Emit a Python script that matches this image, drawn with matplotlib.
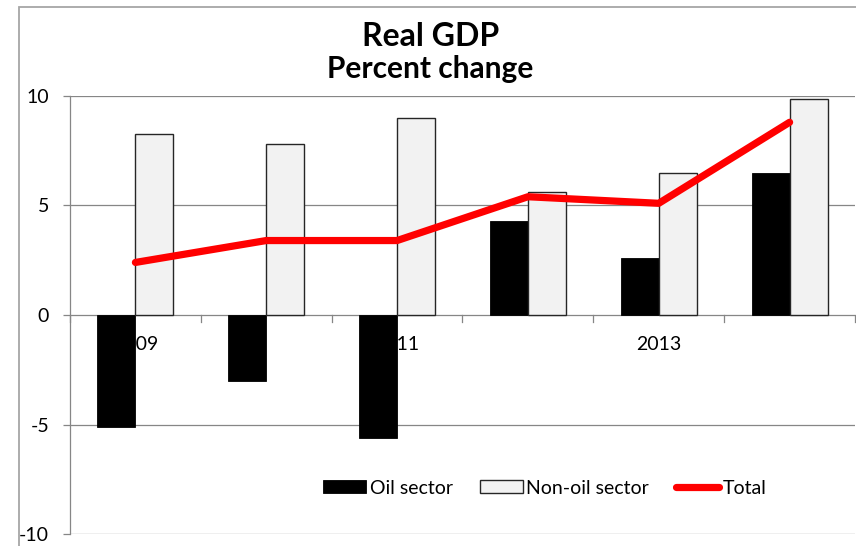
import matplotlib
matplotlib.use("Agg")
import matplotlib.pyplot as plt
from matplotlib.patches import Rectangle
from matplotlib.transforms import offset_copy
import numpy as np

plt.rcParams['font.family'] = ['Lato', 'DejaVu Sans']

years = ["2009", "2010", "2011", "2012", "2013", "2014"]
oil_sector = [-5.1, -3.0, -5.6, 4.3, 2.6, 6.5]
non_oil_sector = [8.25, 7.8, 9.0, 5.6, 6.5, 9.85]
total = [2.4, 3.4, 3.4, 5.4, 5.1, 8.8]
y_ticks = [-10, -5, 0, 5, 10]

W, H = 856, 546
fig = plt.figure(figsize=(W / 100, H / 100), dpi=100)
fig.patch.set_facecolor("white")

# chart-area frame
fig.add_artist(Rectangle((19 / W, -0.05), 1.2, 1 - 7 / H + 0.05,
                         transform=fig.transFigure, fill=False,
                         edgecolor="#a6a6a6", linewidth=1.3))

ax = fig.add_axes([70 / W, 1 - 534 / H, 785 / W, (534 - 96) / H])
x = np.arange(len(years))
bw = 0.29

h_oil = ax.bar(x - bw / 2, oil_sector, width=bw, color="black", edgecolor="black",
               linewidth=0.6, zorder=3, label="Oil sector")
h_non = ax.bar(x + bw / 2, non_oil_sector, width=bw, color="#f2f2f2",
               edgecolor="#262626", linewidth=1.0, zorder=3, label="Non-oil sector")
h_tot, = ax.plot(x, total, color="#ff0000", linewidth=5.2, solid_capstyle="round",
                 solid_joinstyle="round", zorder=4, label="Total")

ax.set_xlim(-0.5, len(years) - 0.5)
ax.set_ylim(-10, 10)
ax.set_yticks(y_ticks)
ax.set_yticklabels([str(v) for v in y_ticks])
for v in y_ticks:
    if v != 0:
        ax.axhline(v, color="#868686", linewidth=0.9, zorder=1)

for s in ["top", "right", "bottom"]:
    ax.spines[s].set_visible(False)
ax.spines["left"].set_color("#868686")
ax.spines["left"].set_linewidth(0.9)

# category axis along zero with boundary ticks
ax.axhline(0, color="#868686", linewidth=0.9, zorder=2)
ax.set_xticks([])
for b in np.arange(-0.5, len(years), 1.0):
    ax.plot([b, b], [0, -0.32], color="#868686", linewidth=0.9, zorder=2,
            clip_on=False)

# category labels sit under the bars
lab_tr = offset_copy(ax.transData, fig=fig, x=0, y=-21, units="points")
for i, yr in enumerate(years):
    if i % 2 == 0:
        ax.text(i, 0, yr, transform=lab_tr, ha="center", va="center",
                fontsize=14, color="black", zorder=2)

ax.tick_params(axis="y", direction="out", length=5, width=0.9, color="#868686",
               pad=10, labelsize=14)

fig.text(431 / W, 1 - 37 / H, "Real GDP", ha="center", va="center",
         fontsize=23, fontweight="bold")
fig.text(430 / W, 1 - 69 / H, "Percent change", ha="center", va="center",
         fontsize=21.5, fontweight="bold")

ax.legend(handles=[h_oil, h_non, h_tot], loc="center",
          bbox_to_anchor=(0.605, 0.105), ncol=3, frameon=False,
          fontsize=14, handlelength=2.2, handleheight=0.6, handletextpad=0.2,
          columnspacing=1.4)

fig.savefig("out.png", dpi=100)
